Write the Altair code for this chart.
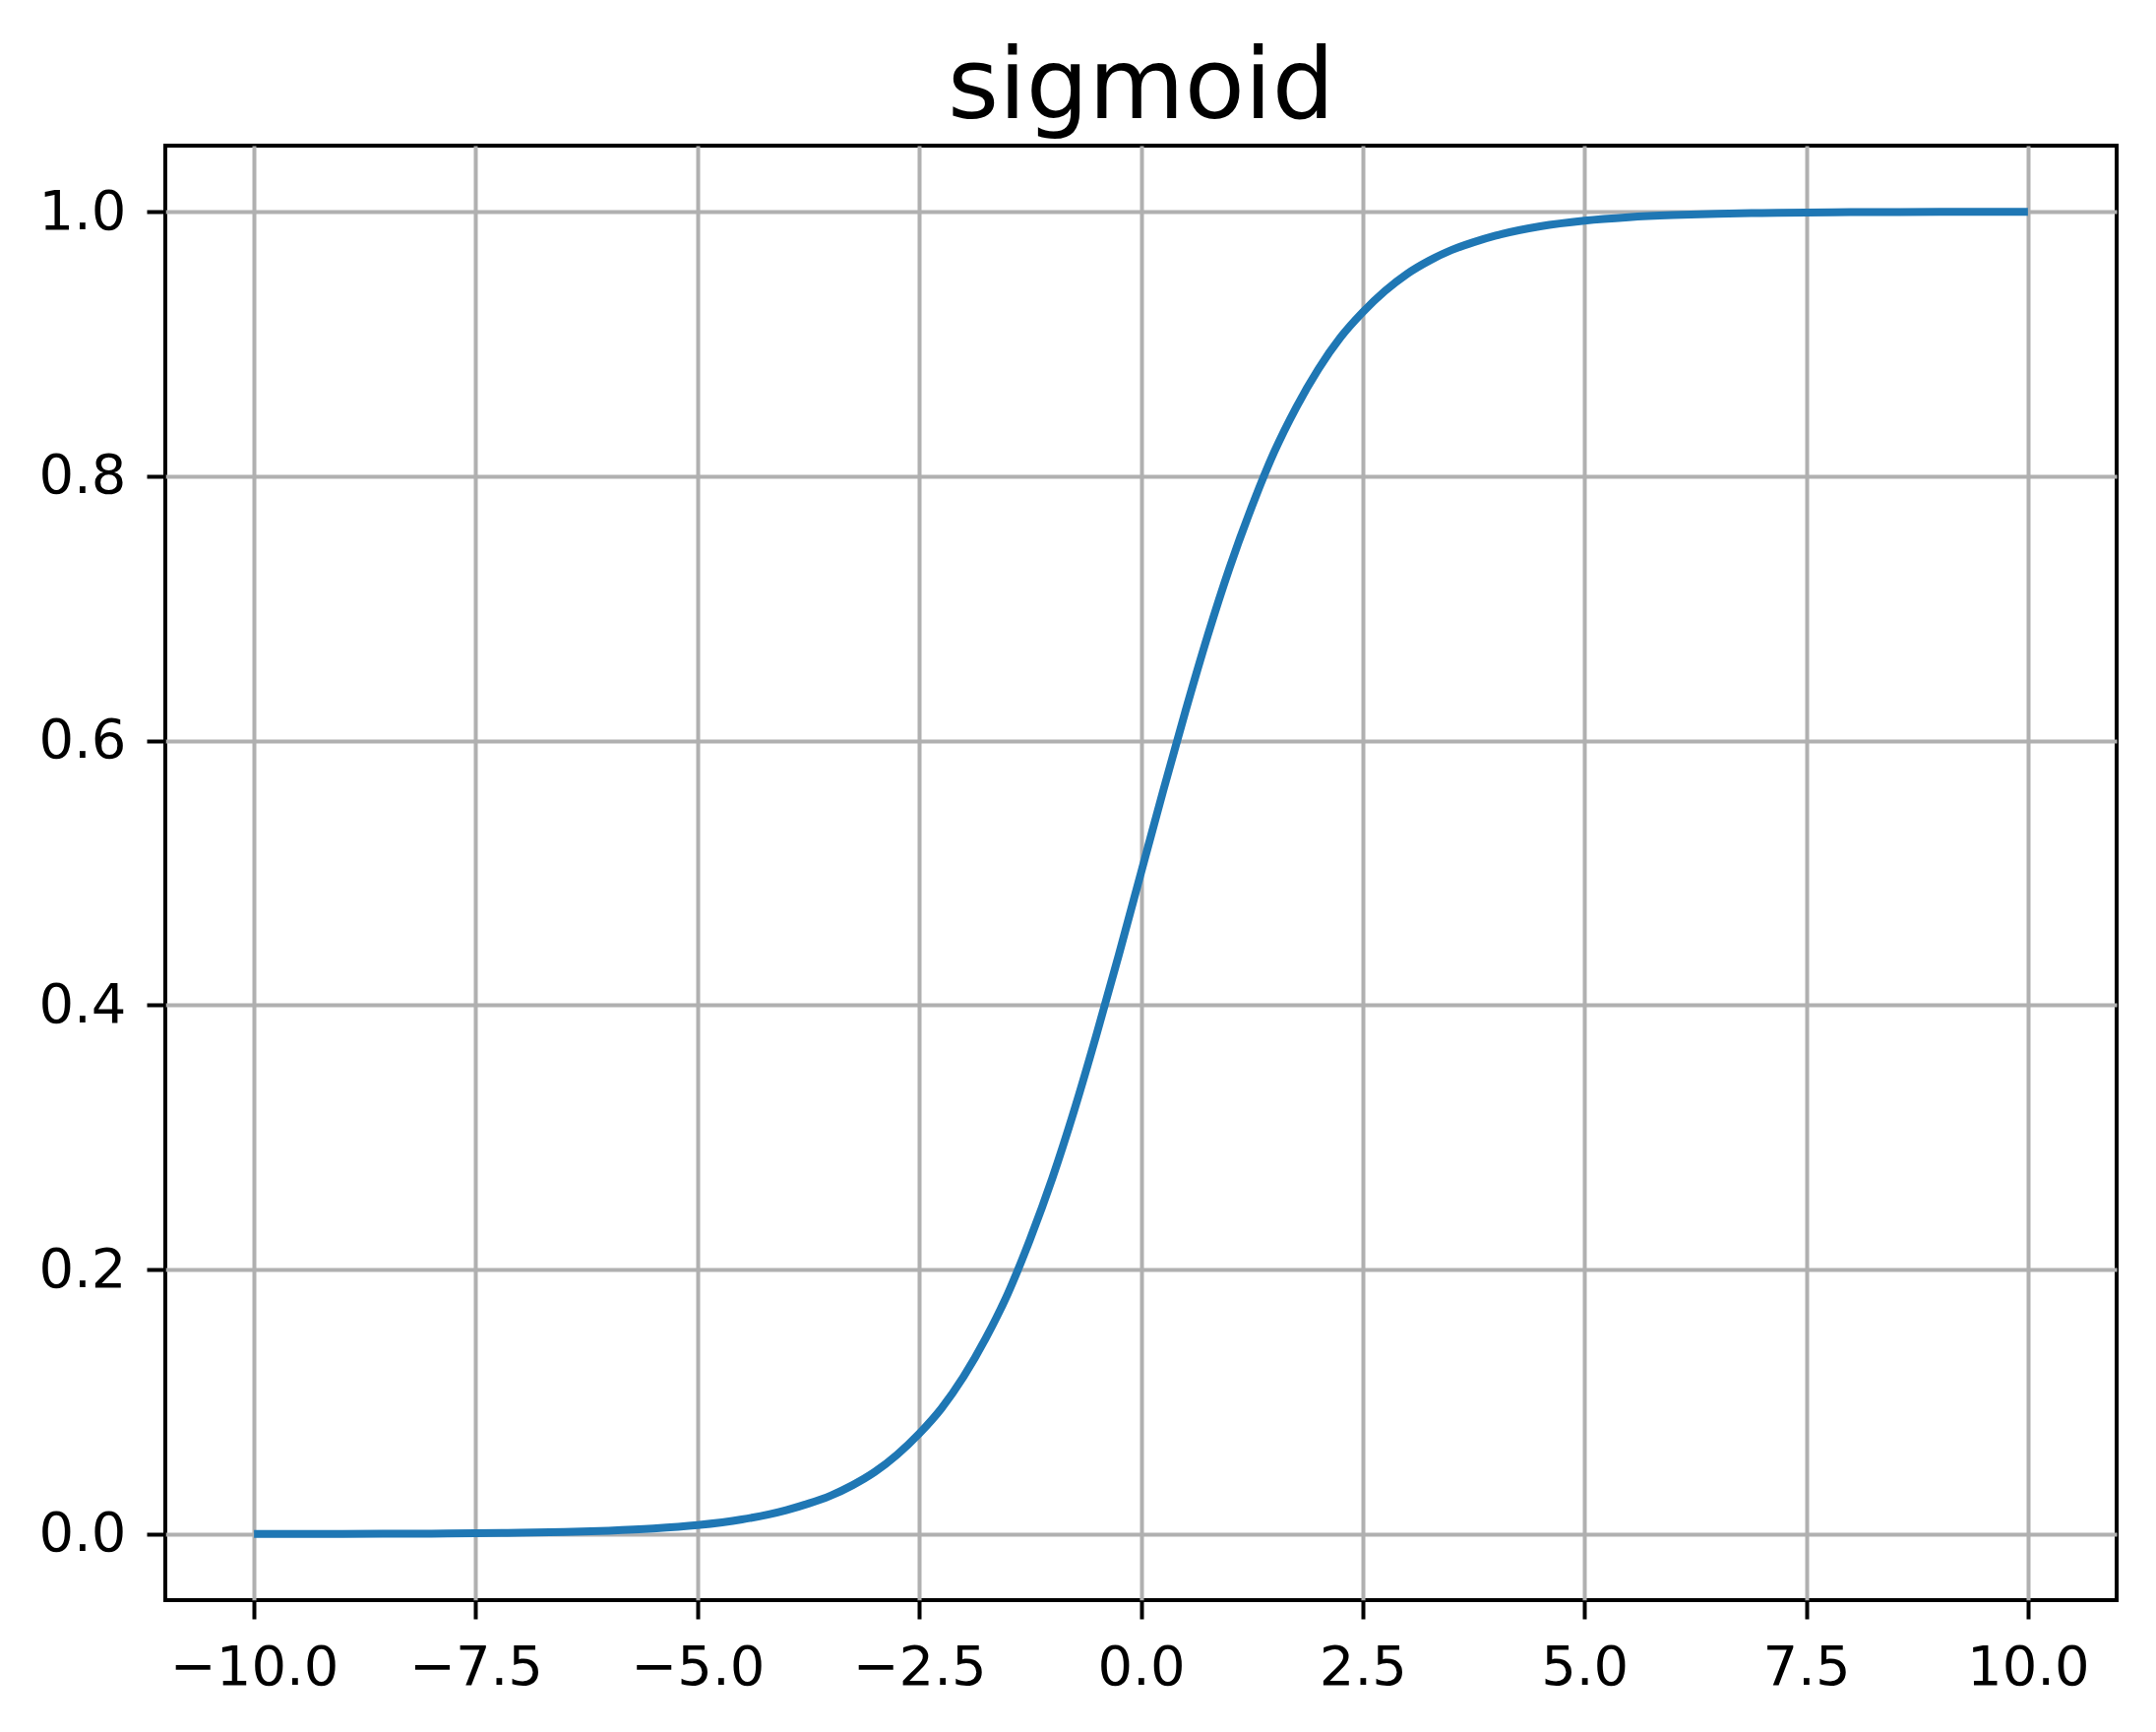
import altair as alt
import pandas as pd

# values
x_vals = [-10.0, -9.5, -9.0, -8.5, -8.0, -7.5, -7.0, -6.5, -6.0, -5.5, -5.0,
          -4.5, -4.0, -3.75, -3.5, -3.25, -3.0, -2.75, -2.5, -2.25, -2.0, -1.75, -1.5, -1.25,
          -1.0, -0.75, -0.5, -0.25, 0.0, 0.25, 0.5, 0.75, 1.0, 1.25, 1.5, 1.75,
          2.0, 2.25, 2.5, 2.75, 3.0, 3.25, 3.5, 3.75, 4.0, 4.5, 5.0,
          5.5, 6.0, 6.5, 7.0, 7.5, 8.0, 8.5, 9.0, 9.5, 10.0]
y_vals = [0.0000, 0.0001, 0.0001, 0.0002, 0.0003, 0.0006, 0.0009, 0.0015, 0.0025, 0.0041, 0.0067,
          0.011, 0.018, 0.023, 0.029, 0.037, 0.047, 0.060, 0.076, 0.095, 0.119, 0.148, 0.182, 0.223,
          0.269, 0.321, 0.378, 0.438, 0.500, 0.562, 0.622, 0.679, 0.731, 0.777, 0.818, 0.852,
          0.881, 0.905, 0.924, 0.940, 0.953, 0.963, 0.971, 0.977, 0.982, 0.989, 0.9933,
          0.9959, 0.9975, 0.9985, 0.9991, 0.9994, 0.9997, 0.9998, 0.9999, 0.9999, 1.0000]
x_ticks = [-10.0, -7.5, -5.0, -2.5, 0.0, 2.5, 5.0, 7.5, 10.0]
y_ticks = [0.0, 0.2, 0.4, 0.6, 0.8, 1.0]
title_text = "sigmoid"

df = pd.DataFrame({"x": x_vals, "y": y_vals})

FONT = "DejaVu Sans"

chart = alt.Chart(df).mark_line(
    color="#1f77b4", strokeWidth=8, interpolate="monotone", strokeCap="butt", clip=True
).encode(
    x=alt.X("x:Q", scale=alt.Scale(domain=[-11, 11], nice=False, zero=False),
            axis=alt.Axis(values=x_ticks, format=".1f", title=None, labelPadding=22)),
    y=alt.Y("y:Q", scale=alt.Scale(domain=[-0.05, 1.05], nice=False, zero=False),
            axis=alt.Axis(values=y_ticks, format=".1f", title=None, labelPadding=21)),
).properties(
    width=1983,
    height=1478,
    background="white",
    title=alt.TitleParams(title_text, fontSize=100, font=FONT, fontWeight="normal",
                          color="black", anchor="middle", baseline="alphabetic",
                          offset=0, dy=72),
    autosize=alt.AutoSizeParams(type="none"),
    padding={"left": 160, "top": 140, "right": 30, "bottom": 120},
).configure_view(
    stroke="black", strokeWidth=4
).configure_axis(
    domain=False,
    grid=True, gridColor="#b0b0b0", gridWidth=4, gridOpacity=1,
    ticks=True, tickColor="black", tickWidth=4, tickSize=19,
    labelFont=FONT, labelFontSize=56, labelColor="black",
)

chart.save("out.html", embed_options={"renderer": "svg", "actions": False})
